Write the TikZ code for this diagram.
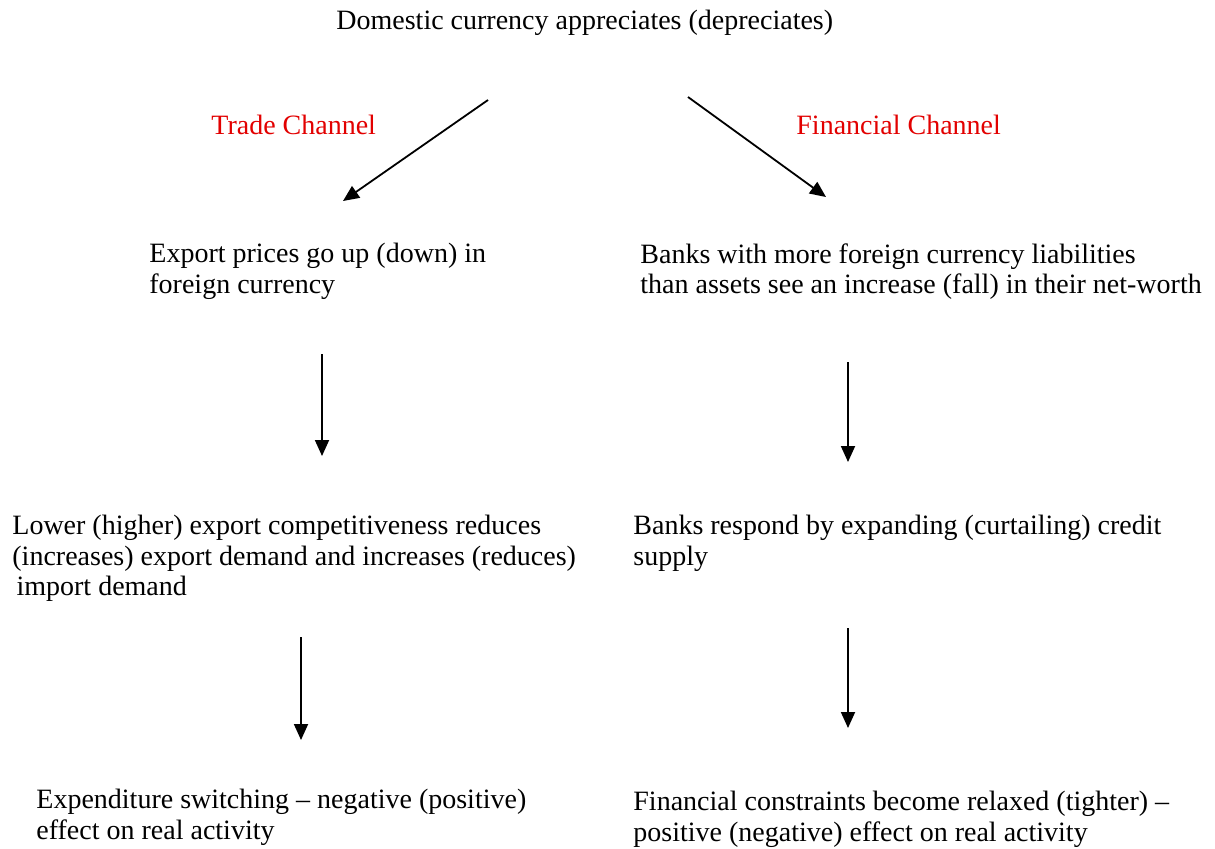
\documentclass[tikz,border=0pt]{standalone}
\usepackage{fontspec}
\setmainfont{Liberation Serif}
\usepackage{tikz}
\usetikzlibrary{arrows.meta}
\definecolor{chanred}{RGB}{226,0,0}

\begin{document}
\begin{tikzpicture}[x=0.5pt,y=-0.5pt,
  txt/.style={anchor=north west,inner sep=0,align=left,font=\fontsize{14}{15.25}\selectfont},
  chan/.style={txt,text=chanred},
  arr/.style={line width=0.9pt,-{Triangle[length=8pt,width=7pt]}}]
  \useasboundingbox (0,0) rectangle (1215,848);
  \node[txt] (shock) at (336,10) {Domestic currency appreciates (depreciates)};
  \node[chan] (trade) at (211,115) {Trade Channel};
  \node[chan] (fin) at (796,115) {Financial Channel};
  \node[txt] (price) at (149,243) {Export prices go up (down) in\\foreign currency};
  \node[txt] (banks) at (640,243) {Banks with more foreign currency liabilities\\than assets see an increase (fall) in their net-worth};
  \node[txt] (compet) at (12,515) {Lower (higher) export competitiveness reduces\\(increases) export demand and increases (reduces)\\\hspace{0.15em}import demand};
  \node[txt] (credit) at (633,515) {Banks respond by expanding (curtailing) credit\\supply};
  \node[txt] (switch) at (36,789) {Expenditure switching -- negative (positive)\\effect on real activity};
  \node[txt] (constr) at (633,791) {Financial constraints become relaxed (tighter) --\\positive (negative) effect on real activity};
  \coordinate (shockL) at (488,100);
  \coordinate (shockR) at (688,97);
  \coordinate (priceN) at (343,201);
  \coordinate (banksN) at (826,197);
  \coordinate (priceS) at (322,354);
  \coordinate (competN) at (322,456);
  \coordinate (banksS) at (848,362);
  \coordinate (creditN) at (848,462);
  \coordinate (competS) at (301,637);
  \coordinate (switchN) at (301,740);
  \coordinate (creditS) at (848,628);
  \coordinate (constrN) at (848,728);
  \draw[arr] (shockL) -- (priceN);
  \draw[arr] (shockR) -- (banksN);
  \draw[arr] (priceS) -- (competN);
  \draw[arr] (banksS) -- (creditN);
  \draw[arr] (competS) -- (switchN);
  \draw[arr] (creditS) -- (constrN);
\end{tikzpicture}
\end{document}
